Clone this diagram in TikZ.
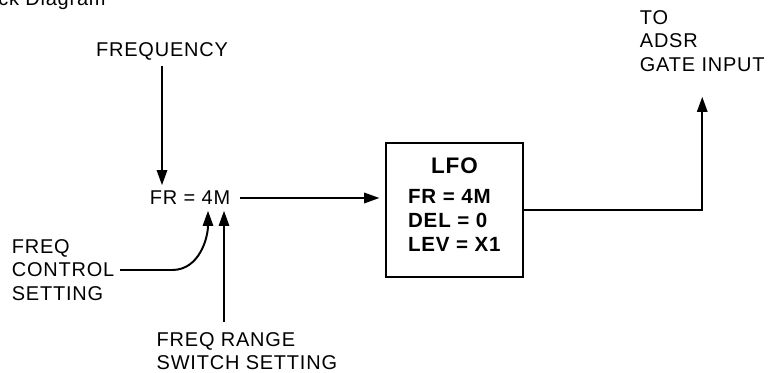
\documentclass[tikz,border=0pt]{standalone}
\usepackage{fontspec}
\setmainfont{Liberation Sans}[LetterSpace=4]
\usetikzlibrary{arrows.meta,positioning}
\tikzset{
	lbl/.style={inner sep=4pt,font=\fontsize{14.2}{16.8}\selectfont},
	bld/.style={inner sep=4pt,font=\fontsize{14.6}{16.8}\selectfont\bfseries},
	arr/.style={line width=1.4pt,-{Triangle[length=0.38cm,width=0.26cm]}},
}
\begin{document}
\begin{tikzpicture}
			\useasboundingbox (0,0) rectangle (19.225,9.325);
			\node[lbl,anchor=base west,inner sep=0pt] (title) at (-0.05,9.19) {ck Diagram};
			\node[lbl] (freq) at (4.05,8.05) {FREQUENCY};
			\node[lbl] (fr) at (4.75,4.375) {FR = 4M};
			\node[lbl,align=left,anchor=west] (ctl) at (0.15,2.575) {FREQ\\CONTROL\\SETTING};
			\node[lbl,align=left,anchor=west] (rng) at (3.77,0.55) {FREQ RANGE\\SWITCH SETTING};
			\node[lbl,align=left,anchor=west] (adsr) at (15.85,8.3) {TO\\ADSR\\GATE INPUT};
			\node[draw,line width=1.4pt,minimum width=3.425cm,minimum height=3.35cm] (lfo) at (11.3625,4.075) {};
			\node[bld,font=\fontsize{16}{18}\selectfont\bfseries] (lfoname) at ([yshift=-0.6cm]lfo.north) {LFO};
			\node[bld,align=left,anchor=west] (lfopar) at ([xshift=0.43cm,yshift=-1.96cm]lfo.north west) {FR = 4M\\DEL = 0\\LEV = X1};
			\draw[arr] (freq) -- (freq |- fr.north);
			\draw[arr,shorten <=3pt,shorten >=4pt] (fr) -- (fr -| lfo.west);
			\draw[arr] (ctl.east) -- ++(1.3,0) to [out=0,in=-90] ([xshift=0.45cm]fr.south);
			\draw[arr,shorten <=3pt] ([xshift=0.85cm]fr.south |- rng.north) -- ([xshift=0.85cm]fr.south);
			\draw[arr] (lfo.east) -| ([yshift=-0.48cm]adsr.south);
\end{tikzpicture}
\end{document}
